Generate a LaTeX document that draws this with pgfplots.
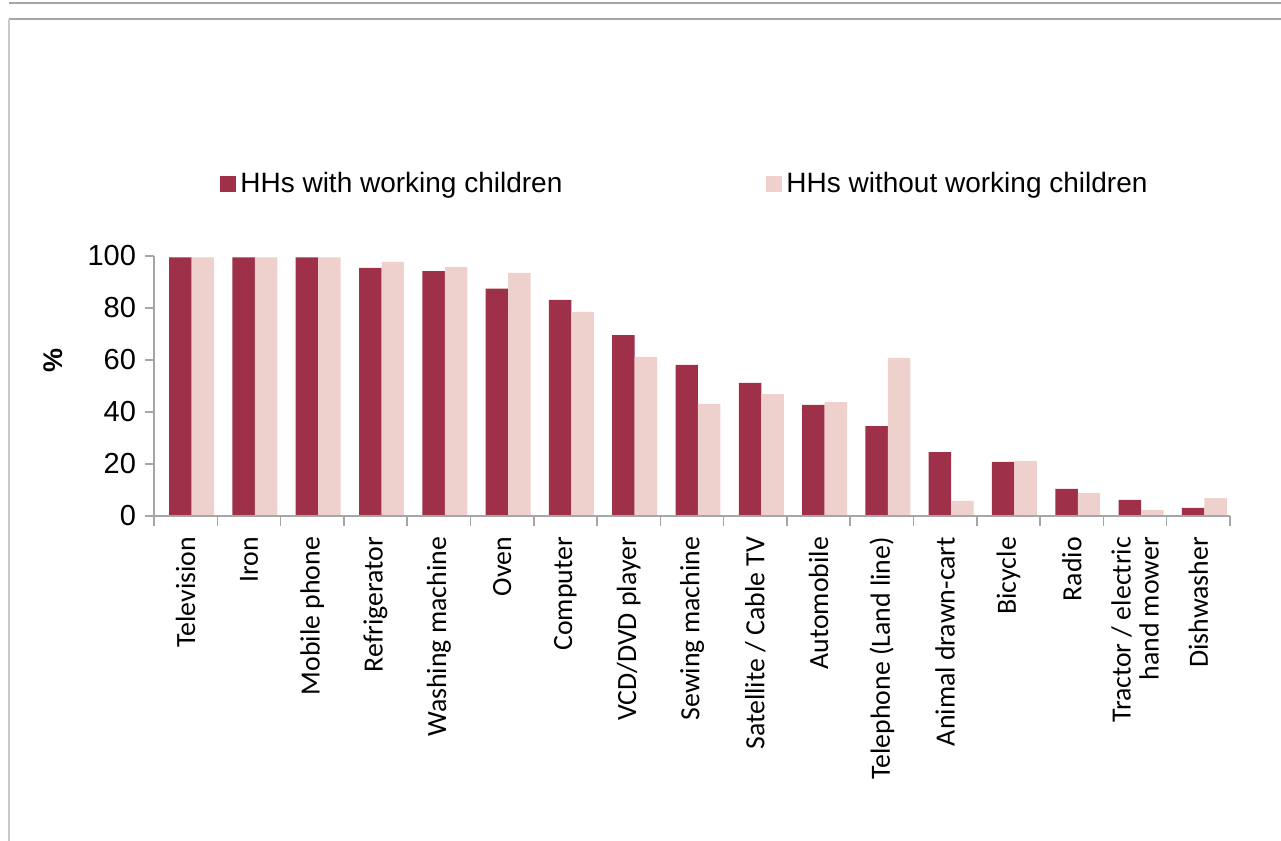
\documentclass[border=0pt]{standalone}
\usepackage{pgfplots}
\pgfplotsset{compat=1.18}
\usepackage{fontspec}
\setmainfont{Liberation Sans}
\newfontfamily\calibri{Carlito}
\definecolor{darkred}{HTML}{9E3049}
\definecolor{lightpink}{HTML}{EED1CD}
\definecolor{axisgray}{HTML}{A6A6A6}
\definecolor{framegray}{HTML}{C8C8C8}
\begin{document}
\begin{tikzpicture}
\path[use as bounding box] (0,0) rectangle (640.5pt,-420.5pt);
\draw[color=axisgray, line width=1pt] (4.5pt,-1.5pt) -- (640.5pt,-1.5pt);
\draw[color=axisgray, line width=1pt] (4.5pt,-9.5pt) -- (640.5pt,-9.5pt);
\draw[color=framegray, line width=1pt] (4.5pt,-9.5pt) -- (4.5pt,-420.5pt);
\begin{axis}[
  at={(77pt,-258pt)}, anchor=south west,
  width=538pt, height=130pt, scale only axis,
  xmin=-0.5, xmax=16.5, ymin=0, ymax=100,
  ybar=0pt, bar width=0.355,
  axis x line=bottom, axis y line=left,
  axis line style={-, draw=axisgray, line width=0.75pt},
  tick style={draw=axisgray, line width=0.75pt},
  tick align=outside,
  ytick={0,20,40,60,80,100},
  major tick length=4.5pt,
  minor tick length=5pt,
  xtick={0,1,...,16},
  major x tick style={draw=none},
  minor xtick={-0.5,0.5,1.5,2.5,3.5,4.5,5.5,6.5,7.5,8.5,9.5,10.5,11.5,12.5,13.5,14.5,15.5,16.5},
  xticklabels={Television, Iron, Mobile phone, Refrigerator, Washing machine, Oven, Computer, VCD/DVD player, Sewing machine, Satellite / Cable TV, Automobile, Telephone (Land line), Animal drawn-cart, Bicycle, Radio, {Tractor / electric\\hand mower}, Dishwasher},
  xticklabel shift=2.5pt,
  xticklabel style={rotate=90, anchor=east, align=right, font=\calibri\fontsize{13.9}{14}\selectfont},
  yticklabel shift=1pt,
  yticklabel style={font=\fontsize{14.5}{17}\selectfont},
  /pgf/number format/assume math mode=true,
  ylabel={\textbf{\%}},
  ylabel style={at={(axis description cs:-0.0939,0.6)}, anchor=center, font=\fontsize{13.5}{16}\selectfont},
  legend columns=2,
  legend image code/.code={\fill[#1] (0pt,-4pt) rectangle (8pt,4pt);},
  legend style={at={(0.0613,1.277)}, anchor=west, draw=none, fill=none, inner sep=0pt,
    font=\fontsize{14}{17}\selectfont,
    /tikz/every even column/.append style={column sep=100pt}},
  axis on top,
]
\addplot[fill=darkred, draw=none, bar shift=-0.083] coordinates {
 (0,99.5) (1,99.5) (2,99.5) (3,95.4) (4,94.2) (5,87.5) (6,83.1) (7,69.6) (8,58.1)
 (9,51.2) (10,42.7) (11,34.6) (12,24.6) (13,20.8) (14,10.4) (15,6.2) (16,3.1)};
\addplot[fill=lightpink, draw=none, bar shift=0.272] coordinates {
 (0,99.5) (1,99.5) (2,99.5) (3,97.7) (4,95.8) (5,93.5) (6,78.5) (7,61.2) (8,43.1)
 (9,46.9) (10,43.8) (11,60.8) (12,5.8) (13,21.2) (14,8.8) (15,2.3) (16,6.9)};
\legend{HHs with working children, HHs without working children}
\end{axis}
\end{tikzpicture}
\end{document}
